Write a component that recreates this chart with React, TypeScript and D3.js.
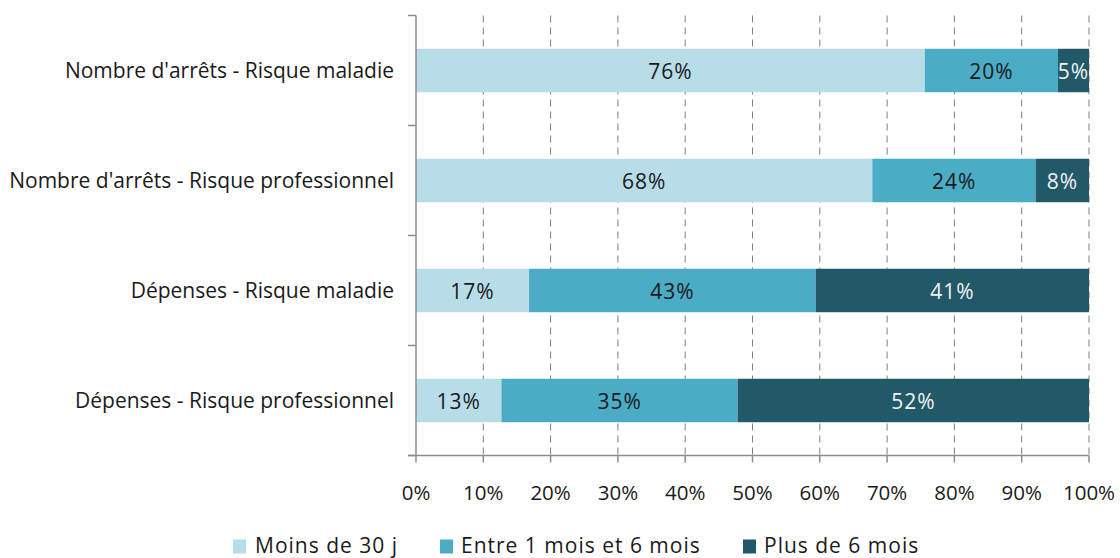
import React from "react";
import * as d3 from "d3";

const categories = [
  "Nombre d'arrêts - Risque maladie",
  "Nombre d'arrêts - Risque professionnel",
  "Dépenses - Risque maladie",
  "Dépenses - Risque professionnel",
];
const seriesNames = ["Moins de 30 j", "Entre 1 mois et 6 mois", "Plus de 6 mois"];
const moins30 = [75.6, 67.8, 16.8, 12.7];
const entre1et6 = [19.8, 24.3, 42.6, 35.1];
const plus6 = [4.6, 7.9, 40.6, 52.2];
const tickValues = [0, 10, 20, 30, 40, 50, 60, 70, 80, 90, 100];
const colors = ["#b7dde8", "#4bacc6", "#215968"];
const labelColors = ["#1a1a1a", "#1a1a1a", "#f2f2f2"];

const FONT = "'Open Sans', sans-serif";

export default function App() {
  const W = 1120;
  const H = 558;
  const x0 = 416;
  const x1 = 1089;
  const yTop = 15.5;
  const yBot = 455.5;

  const x = d3.scaleLinear().domain([0, 100]).range([x0, x1]);
  const y = d3
    .scaleBand<string>()
    .domain(categories)
    .range([yTop, yBot])
    .paddingInner(0.605)
    .paddingOuter(0.3025);

  const rows = categories.map((c, i) => ({
    cat: c,
    moins30: moins30[i],
    entre1et6: entre1et6[i],
    plus6: plus6[i],
  }));
  const keys = ["moins30", "entre1et6", "plus6"];
  const stacked = d3.stack<any>().keys(keys)(rows);

  const step = (yBot - yTop) / categories.length;
  const catTicks = d3.range(categories.length + 1).map((k) => yTop + k * step);

  const legendItems = [
    { sx: 233, tx: 255 },
    { sx: 440, tx: 461 },
    { sx: 743, tx: 764 },
  ];

  return (
    <svg
      width={W}
      height={H}
      style={{ position: "absolute", left: 0, top: 0, background: "#fff" }}
      fontFamily={FONT}
    >
      {/* gridlines */}
      {tickValues.slice(1).map((t) => (
        <line
          key={"g" + t}
          x1={x(t)}
          x2={x(t)}
          y1={yTop}
          y2={yBot}
          stroke="#7f7f7f"
          strokeWidth={1}
          strokeDasharray="7,5"
        />
      ))}
      {/* bars */}
      {stacked.map((layer, si) =>
        layer.map((d, i) => {
          const cat = categories[i];
          const bx = x(d[0]);
          const bw = x(d[1]) - x(d[0]);
          return (
            <g key={si + "-" + i}>
              <rect x={bx} y={y(cat)} width={bw} height={y.bandwidth()} fill={colors[si]} />
              <text
                x={bx + bw / 2}
                y={(y(cat) as number) + y.bandwidth() / 2 + 1}
                dy="0.36em"
                textAnchor="middle"
                fontSize={21}
                letterSpacing={1}
                fill={labelColors[si]}
              >
                {Math.round(d[1] - d[0]) + "%"}
              </text>
            </g>
          );
        })
      )}
      {/* y axis */}
      <line x1={x0} x2={x0} y1={yTop} y2={yBot} stroke="#8c8c8c" strokeWidth={1.5} />
      {catTicks.map((t, k) => (
        <line key={"ct" + k} x1={x0 - 8} x2={x0} y1={t} y2={t} stroke="#8c8c8c" strokeWidth={1.5} />
      ))}
      {categories.map((c) => (
        <text
          key={c}
          x={394}
          y={(y(c) as number) + y.bandwidth() / 2}
          dy="0.36em"
          textAnchor="end"
          fontSize={21}
          fill="#1a1a1a"
        >
          {c}
        </text>
      ))}
      {/* x axis */}
      <line x1={x0 - 8} x2={x1} y1={yBot} y2={yBot} stroke="#8c8c8c" strokeWidth={1.5} />
      {tickValues.map((t) => (
        <g key={"xt" + t}>
          <line x1={x(t)} x2={x(t)} y1={yBot} y2={yBot + 7} stroke="#8c8c8c" strokeWidth={1.5} />
          <text x={x(t)} y={493} dy="0.36em" textAnchor="middle" fontSize={20.5} fill="#1a1a1a">
            {t + "%"}
          </text>
        </g>
      ))}
      {/* legend */}
      {seriesNames.map((s, i) => (
        <g key={s}>
          <rect x={legendItems[i].sx} y={539.5} width={13} height={14} fill={colors[i]} />
          <text x={legendItems[i].tx} y={553} fontSize={21} letterSpacing={1} fill="#1a1a1a">
            {s}
          </text>
        </g>
      ))}
    </svg>
  );
}
